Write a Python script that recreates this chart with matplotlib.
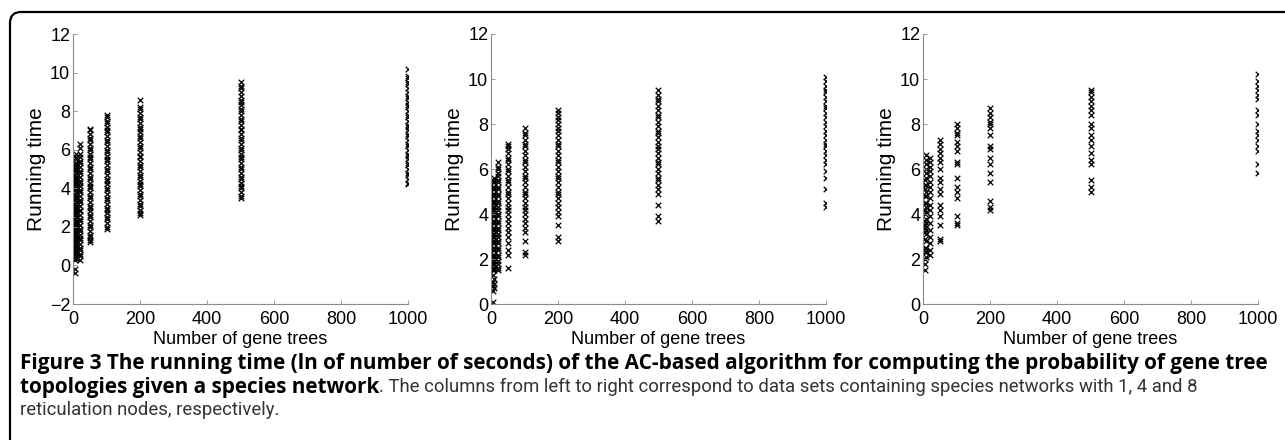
import matplotlib
matplotlib.use('Agg')
import matplotlib.pyplot as plt
from matplotlib.patches import FancyBboxPatch
from matplotlib.transforms import IdentityTransform

# number of gene trees per column
n_trees = [5, 10, 20, 50, 100, 200, 500, 1000]

# running times (ln seconds), 1 reticulation node
p1 = [
    [-0.4, -0.2, 0.3, 0.4, 0.6, 0.7, 0.9, 1.0, 1.2, 1.3, 1.5, 1.7, 1.8, 1.9, 2.1, 2.2, 2.4, 2.6, 2.7,
     2.9, 3.0, 3.2, 3.4, 3.5, 3.7, 3.9, 4.0, 4.2, 4.4, 4.5, 4.7, 4.9, 5.0, 5.2, 5.3],
    [0.4, 0.5, 0.7, 0.8, 1.0, 1.1, 1.3, 1.4, 1.6, 1.7, 1.9, 2.0, 2.2, 2.3, 2.5, 2.7, 2.8, 3.0, 3.1,
     3.3, 3.5, 3.6, 3.8, 4.0, 4.1, 4.3, 4.5, 4.6, 4.8, 5.0, 5.1, 5.3, 5.5, 5.6, 5.8],
    [0.3, 0.5, 0.6, 0.8, 0.9, 1.1, 1.3, 1.4, 1.6, 1.8, 1.9, 2.1, 2.3, 2.4, 2.6, 2.8, 2.9, 3.1, 3.3,
     3.4, 3.6, 3.8, 3.9, 4.1, 4.3, 4.4, 4.6, 4.8, 4.9, 5.1, 5.3, 5.4, 5.6, 5.8, 6.1, 6.3],
    [1.2, 1.3, 1.5, 1.6, 1.8, 2.0, 2.1, 2.3, 2.5, 2.6, 2.8, 3.0, 3.1, 3.3, 3.5, 3.6, 3.8, 4.0, 4.1,
     4.3, 4.5, 4.6, 4.8, 5.0, 5.1, 5.3, 5.5, 5.6, 5.8, 6.0, 6.1, 6.3, 6.5, 6.6, 6.8, 7.0, 7.1],
    [1.9, 2.0, 2.2, 2.4, 2.5, 2.7, 2.9, 3.0, 3.2, 3.4, 3.5, 3.7, 3.9, 4.0, 4.2, 4.4, 4.5, 4.7, 4.9,
     5.0, 5.2, 5.4, 5.5, 5.7, 5.9, 6.0, 6.2, 6.4, 6.5, 6.7, 6.9, 7.0, 7.2, 7.4, 7.5, 7.7, 7.8],
    [2.6, 2.7, 2.9, 3.1, 3.2, 3.4, 3.6, 3.7, 3.9, 4.1, 4.2, 4.4, 4.6, 4.7, 4.9, 5.1, 5.2, 5.4, 5.6,
     5.7, 5.9, 6.1, 6.2, 6.4, 6.6, 6.7, 6.9, 7.1, 7.2, 7.4, 7.6, 7.7, 7.9, 8.1, 8.2, 8.6],
    [3.5, 3.6, 3.8, 4.0, 4.1, 4.3, 4.5, 4.6, 4.8, 5.0, 5.1, 5.3, 5.5, 5.6, 5.8, 6.0, 6.1, 6.3, 6.5,
     6.6, 6.8, 7.0, 7.1, 7.3, 7.5, 7.6, 7.8, 8.0, 8.1, 8.3, 8.5, 8.6, 8.8, 9.0, 9.2, 9.3, 9.5],
    [4.2, 4.3, 4.5, 4.7, 4.8, 5.0, 5.2, 5.3, 5.5, 5.7, 5.8, 6.0, 6.2, 6.3, 6.5, 6.7, 6.8, 7.0, 7.2,
     7.3, 7.5, 7.7, 7.8, 8.0, 8.2, 8.3, 8.5, 8.7, 8.8, 9.0, 9.2, 9.4, 9.5, 9.7, 9.8, 10.2],
]

# 4 reticulation nodes
p2 = [
    [0.1, 0.6, 0.8, 1.0, 1.3, 1.5, 1.6, 1.8, 1.9, 2.1, 2.2, 2.4, 2.5, 2.7, 2.8, 3.0, 3.1, 3.3, 3.4,
     3.6, 3.7, 3.9, 4.0, 4.2, 4.3, 4.5, 4.6, 4.8, 4.9, 5.1, 5.2, 5.4, 5.5],
    [0.7, 0.9, 1.1, 1.5, 1.6, 1.8, 1.9, 2.1, 2.2, 2.4, 2.5, 2.7, 2.8, 3.0, 3.1, 3.3, 3.4, 3.6, 3.7,
     3.9, 4.0, 4.2, 4.3, 4.5, 4.6, 4.8, 4.9, 5.1, 5.2, 5.4, 5.6],
    [1.5, 1.6, 1.8, 1.9, 2.1, 2.2, 2.4, 2.5, 2.7, 2.8, 3.0, 3.1, 3.3, 3.4, 3.6, 3.7, 3.9, 4.0, 4.2,
     4.3, 4.5, 4.6, 4.8, 4.9, 5.1, 5.2, 5.4, 5.5, 5.7, 5.8, 6.0, 6.1, 6.3],
    [1.6, 2.2, 2.4, 2.7, 3.0, 3.2, 3.4, 3.6, 3.8, 4.0, 4.2, 4.3, 4.5, 4.7, 4.9, 5.0, 5.2, 5.4, 5.5,
     5.7, 5.9, 6.0, 6.2, 6.4, 6.5, 6.7, 6.9, 7.0, 7.1],
    [2.2, 2.3, 2.8, 3.2, 3.4, 3.6, 3.8, 4.0, 4.2, 4.3, 4.5, 4.7, 4.9, 5.0, 5.2, 5.4, 5.6, 5.7, 5.9,
     6.1, 6.3, 6.4, 6.6, 6.8, 7.0, 7.1, 7.3, 7.5, 7.6, 7.8],
    [2.8, 3.0, 3.5, 3.9, 4.1, 4.3, 4.5, 4.7, 4.9, 5.0, 5.2, 5.4, 5.6, 5.7, 5.9, 6.1, 6.3, 6.4, 6.6,
     6.8, 7.0, 7.1, 7.3, 7.5, 7.7, 7.8, 8.0, 8.2, 8.3, 8.5, 8.6],
    [3.7, 3.9, 4.4, 4.9, 5.1, 5.3, 5.5, 5.6, 5.8, 6.0, 6.2, 6.3, 6.5, 6.7, 6.9, 7.0, 7.2, 7.4, 7.6,
     7.7, 7.9, 8.1, 8.3, 8.4, 8.6, 8.8, 9.0, 9.1, 9.3, 9.5],
    [4.3, 4.5, 5.1, 5.6, 5.9, 6.2, 6.4, 6.6, 6.8, 7.0, 7.1, 7.3, 7.5, 7.7, 7.9, 8.1, 8.3, 8.5, 8.7,
     8.8, 9.0, 9.2, 9.4, 9.5, 9.7, 9.9, 10.1],
]

# 8 reticulation nodes
p3 = [
    [1.5, 1.8, 2.0, 2.3, 2.5, 2.9, 3.2, 3.4, 3.5, 3.7, 4.0, 4.2, 4.5, 4.8, 5.1, 5.3, 5.5],
    [2.1, 2.3, 2.5, 2.8, 3.1, 3.3, 3.6, 3.8, 4.1, 4.3, 4.5, 4.8, 5.0, 5.3, 5.6, 5.8, 6.0, 6.2, 6.4, 6.6],
    [2.2, 2.4, 2.7, 3.0, 3.3, 3.6, 3.9, 4.2, 4.4, 4.7, 5.0, 5.2, 5.4, 5.7, 5.9, 6.1, 6.3, 6.5],
    [2.8, 2.9, 3.5, 3.9, 4.2, 4.4, 4.9, 5.1, 5.4, 5.6, 6.0, 6.3, 6.5, 6.7, 6.9, 7.1, 7.3],
    [3.5, 3.6, 3.9, 4.7, 5.0, 5.2, 5.6, 6.2, 6.3, 6.8, 7.0, 7.2, 7.5, 7.6, 7.8, 8.0],
    [4.2, 4.3, 4.6, 5.4, 5.8, 6.2, 6.5, 6.9, 7.0, 7.5, 7.8, 8.0, 8.1, 8.3, 8.5, 8.7],
    [5.0, 5.2, 5.5, 6.2, 6.4, 6.7, 7.0, 7.3, 7.5, 7.8, 8.0, 8.4, 8.6, 8.8, 9.0, 9.2, 9.4, 9.5],
    [5.8, 6.2, 6.8, 7.0, 7.3, 7.5, 7.7, 8.0, 8.4, 8.6, 9.1, 9.3, 9.5, 9.7, 9.9, 10.2],
]

panels = [p1, p2, p3]
ylims = [(-2, 12), (0, 12), (0, 12)]
xticks = [0, 200, 400, 600, 800, 1000]

W, H = 1285, 440
fig = plt.figure(figsize=(W / 100, H / 100), dpi=100)
plt.rcParams['font.family'] = ['Liberation Sans', 'DejaVu Sans']

lefts = [73, 491, 923]
for left, data, yl in zip(lefts, panels, ylims):
    ax = fig.add_axes([left / W, (H - 304) / H, 335 / W, 270 / H])
    for xv, ys in zip(n_trees, data):
        ax.scatter([xv] * len(ys), ys, marker='x', s=16, c='black', linewidths=0.9)
    ax.set_xlim(0, 1000)
    ax.set_ylim(*yl)
    ax.set_xticks(xticks)
    ax.set_yticks(range(yl[0], 13, 2))
    for s in ['top', 'right']:
        ax.spines[s].set_visible(False)
    for s in ['left', 'bottom']:
        ax.spines[s].set_color('#8c8c8c')
        ax.spines[s].set_linewidth(0.8)
    ax.tick_params(direction='in', length=3, width=0.6, color='#8c8c8c',
                   labelsize=13, pad=2)
    ax.tick_params(axis='x', pad=5)
    ax.set_xlabel('Number of gene trees', fontsize=13, labelpad=2)
    ax.set_ylabel('Running time', fontsize=15, labelpad=3)

# rounded frame
frame = FancyBboxPatch((10, -30), 1320, 458, boxstyle='round,pad=0,rounding_size=11',
                       transform=IdentityTransform(), fill=False, lw=1.6, ec='black')
fig.patches.append(frame)

# caption
bold_font = ['Open Sans', 'DejaVu Sans']
reg_font = ['Roboto', 'DejaVu Sans']
renderer = fig.canvas.get_renderer()
line1 = ('Figure 3 The running time (ln of number of seconds) of the AC-based algorithm '
         'for computing the probability of gene tree')
t1 = fig.text(20 / W, 1 - 363 / H, line1, fontsize=11, fontweight='bold', family=bold_font,
              va='center', ha='left')
w = t1.get_window_extent(renderer).width
bsize = 11 * 1252 / w
t1.set_fontsize(bsize)

t2 = fig.text(20 / W, 1 - 387 / H, 'topologies given a species network', fontsize=bsize,
              fontweight='bold', family=bold_font, va='center', ha='left')
bb = t2.get_window_extent(renderer)
t3 = fig.text(bb.x1 / W, 1 - 387 / H,
              '. The columns from left to right correspond to data sets containing species '
              'networks with 1, 4 and 8', fontsize=11, family=reg_font, va='center',
              ha='left', color='#333333')
w3 = t3.get_window_extent(renderer).width
rsize = 0.5 * (11 * (1140 - bb.x1) / w3 + 0.95 * bsize)
t3.set_fontsize(rsize)
fig.text(20 / W, 1 - 410 / H, 'reticulation nodes, respectively.', fontsize=rsize,
         family=reg_font, va='center', ha='left', color='#333333')

fig.savefig('out.png', dpi=100)
